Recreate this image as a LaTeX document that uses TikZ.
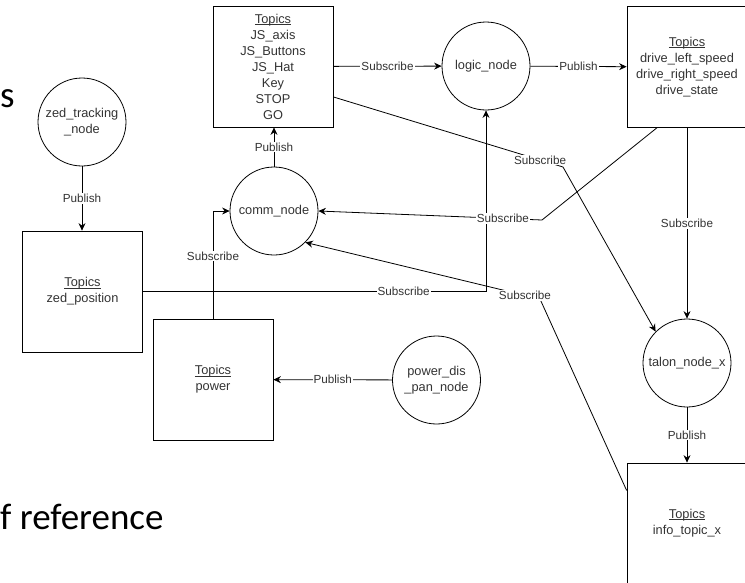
\documentclass[tikz,border=0pt]{standalone}
\usepackage{fontspec}
\usepackage{tikz}
\usetikzlibrary{arrows.meta,calc,positioning}
\newfontfamily\diagfont{Liberation Sans}
\newfontfamily\slidefont{Carlito}
\definecolor{TextGray}{RGB}{51,51,51}
\newcommand{\nodefont}{\diagfont\fontsize{12.8}{16}\selectfont}
\newcommand{\lblfont}{\diagfont\fontsize{11.7}{14}\selectfont}
\newlength{\headwd}
\newcommand{\tophead}{\settowidth{\headwd}{Topics}%
  \rlap{\rule[-1.8pt]{\headwd}{0.7pt}}Topics}

\begin{document}
\begin{tikzpicture}[x=1pt,y=-1pt,
    >={Stealth[length=7.5pt,width=7pt,inset=2.5pt]},
    rosnode/.style={circle,draw,line width=0.8pt,minimum size=88pt,
      inner sep=1pt,align=center,font=\nodefont,text=TextGray},
    topicbox/.style={draw,line width=0.8pt,minimum width=120pt,
      minimum height=121pt,inner sep=2pt,align=center,font=\nodefont,
      text=TextGray},
    edgelbl/.style={fill=white,inner sep=1pt,font=\lblfont,text=TextGray},
    link/.style={->,line width=0.8pt}]
  \useasboundingbox (0,0) rectangle (745,582);

  % slide text behind the diagram
  \node[anchor=base west,inner sep=0,font=\slidefont\fontsize{37}{40}\selectfont]
    (slides) at (0,107) {s};
  \node[anchor=base west,inner sep=0,font=\slidefont\fontsize{37}{40}\selectfont]
    (slideref) at (0,529) {f reference};

  % ROS nodes
  \node[rosnode] (zed) at (82,122) {zed\_tracking\\\_node};
  \node[rosnode] (comm) at (274,211) {comm\_node};
  \node[rosnode] (logic) at (486,66) {logic\_node};
  \node[rosnode] (talon) at (687,363) {talon\_node\_x};
  \node[rosnode] (powdis) at (436.5,380) {power\_dis\\\_pan\_node};

  % topics
  \node[topicbox] (js) at (273,66.5)
    {\tophead\\JS\_axis\\JS\_Buttons\\JS\_Hat\\Key\\STOP\\GO};
  \node[topicbox] (drive) at (687,67)
    {\tophead\\drive\_left\_speed\\drive\_right\_speed\\drive\_state};
  \node[topicbox] (zedpos) at (82.5,291.5) {\tophead\\zed\_position};
  \node[topicbox] (power) at (213,379.5) {\tophead\\power};
  \node[topicbox,minimum height=120pt] (info) at (687,523)
    {\tophead\\info\_topic\_x};

  % publish
  \draw[link] (zed) -- node[edgelbl] (pubzed) {Publish} (zed |- zedpos.north);
  \draw[link] (comm) -- node[edgelbl] (pubcomm) {Publish} (comm |- js.south);
  \draw[link] (logic) -- node[edgelbl] (publogic) {Publish} (drive);
  \draw[link] (powdis) -- node[edgelbl] (pubpow) {Publish} (power);
  \draw[link] (talon) -- node[edgelbl] (pubtalon) {Publish} (info);

  % subscribe
  \draw[link] (js) -- node[edgelbl] (subjs) {Subscribe} (logic);
  \draw[link] (zedpos.east) -| node[edgelbl,pos=0.38] (subzed) {Subscribe}
    (logic.south);
  \draw[link] (power.north) |- node[edgelbl,pos=0.29] (subpower) {Subscribe}
    (comm.west);
  \draw[link] (drive) -- node[edgelbl] (subdrive) {Subscribe} (talon);
  \draw[link] ($(js.east)!0.5!(js.south east)$)
    -- node[edgelbl,pos=0.9] (subjt) {Subscribe} (563,167)
    -- (talon.north west);
  \draw[link] ($(drive.south west)!0.25!(drive.south east)$) -- (542,220)
    -- node[edgelbl,pos=0.175] (subdc) {Subscribe} (comm.east);
  \draw[link] ($(info.north west)!0.23!(info.south west)$) -- (540,299)
    -- node[edgelbl,pos=0.064] (subic) {Subscribe} (comm.south east);
\end{tikzpicture}
\end{document}
